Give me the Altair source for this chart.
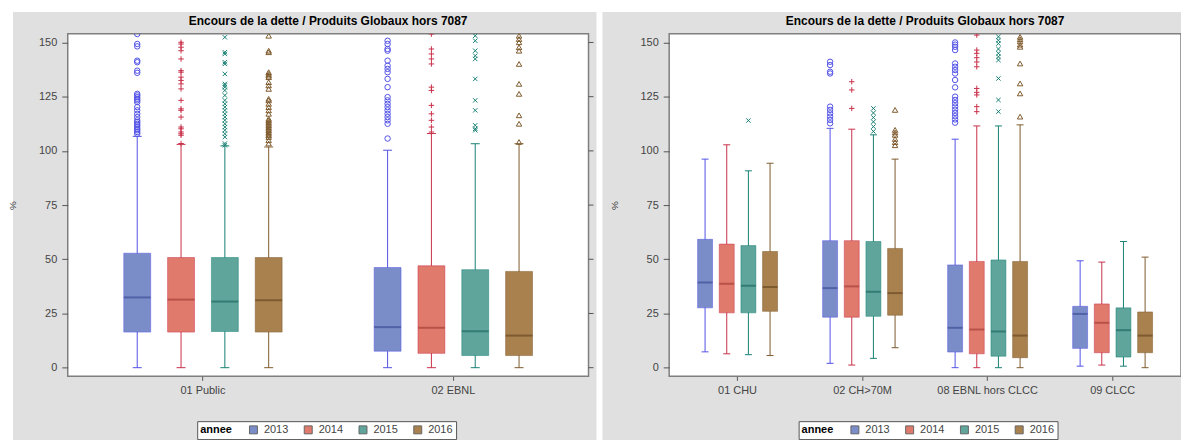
import altair as alt
import pandas as pd

years = ["2013", "2014", "2015", "2016"]
title_text = "Encours de la dette / Produits Globaux hors 7087"
y_ticks = [0, 25, 50, 75, 100, 125, 150]

fill_colors = ["#7B8DC9", "#E07A6C", "#5FA59C", "#A8814F"]
line_colors = ["#5252E6", "#C9304A", "#178074", "#7E5A2C"]
median_colors = ["#3F4E96", "#A8403A", "#1F6B62", "#6B4A22"]

# ---------------- left panel ----------------
left_groups = ["01 Public", "02 EBNL"]
left_low = [[0, 0, 0, 0], [0, 0, 0, 0]]
left_q1 = [[16.4, 16.4, 16.7, 16.4], [7.6, 6.6, 5.6, 5.6]]
left_median = [[32.4, 31.4, 30.5, 31.1], [18.7, 18.4, 16.8, 14.8]]
left_q3 = [[52.8, 50.8, 50.8, 50.8], [46.2, 47.0, 45.2, 44.4]]
left_high = [[106.7, 103.0, 102.3, 101.8], [100.3, 108.0, 103.3, 103.3]]

out_public = [
    [153.9, 149.3, 148.2, 141.6, 140.9, 137.0, 136.0, 126.3, 125.6, 124.8, 124.0, 123.3, 122.5,
     120.2, 118.7, 117.1, 115.6, 114.1, 113.3, 112.5, 111.8, 111.0, 110.2, 109.5, 108.7, 107.9],
    [150.1, 149.3, 147.8, 146.2, 142.4, 137.0, 136.3, 134.0, 132.5, 130.9, 128.6, 123.3, 119.4,
     118.7, 115.6, 111.0, 110.2, 108.7, 107.9, 107.2, 103.4],
    [152.4, 145.5, 144.7, 140.9, 140.1, 135.5, 130.9, 130.2, 129.4, 127.9, 125.6, 123.3, 121.7,
     120.2, 118.7, 117.1, 115.6, 114.1, 112.5, 111.0, 109.5, 107.9, 106.4, 103.4, 102.6],
    [153.1, 146.2, 145.5, 136.3, 135.5, 134.7, 134.0, 131.7, 130.2, 128.6, 124.0, 123.3, 121.7,
     120.2, 118.7, 117.1, 114.8, 114.1, 113.3, 112.5, 111.8, 111.0, 110.2, 109.5, 108.7, 107.9,
     107.2, 106.4, 104.9, 103.4],
]
out_ebnl = [
    [150.8, 149.3, 147.0, 146.2, 141.6, 139.3, 137.8, 136.3, 133.2, 129.4, 124.8, 123.3, 121.7,
     120.2, 118.7, 117.1, 115.6, 114.1, 112.5, 105.7],
    [153.9, 147.0, 144.7, 142.4, 140.1, 129.4, 127.9, 121.0, 117.1, 114.1, 111.0, 108.7],
    [153.1, 150.8, 146.2, 143.9, 142.4, 133.2, 123.3, 118.7, 111.8, 110.2, 109.5],
    [153.1, 151.6, 150.1, 147.8, 146.2, 140.1, 130.9, 126.3, 116.4, 112.5, 104.1],
]
left_outliers = [out_public, out_ebnl]

# ---------------- right panel ----------------
right_groups = ["01 CHU", "02 CH>70M", "08 EBNL hors CLCC", "09 CLCC"]
right_low = [[7.3, 6.4, 6.0, 5.6], [2.0, 1.2, 4.3, 9.2], [0, 0, 0, 0], [0.7, 1.2, 0.7, 0.0]]
right_q1 = [[27.6, 25.3, 25.3, 26.0], [23.3, 23.3, 23.7, 24.2], [7.2, 6.4, 5.3, 4.6], [8.9, 6.9, 4.9, 6.9]]
right_median = [[39.3, 38.7, 37.8, 37.2], [36.7, 37.5, 35.0, 34.4], [18.4, 17.6, 16.7, 14.8], [24.8, 20.7, 17.3, 14.8]]
right_q3 = [[59.2, 57.0, 56.3, 53.6], [58.6, 58.6, 58.2, 55.0], [47.4, 49.0, 49.7, 49.0], [28.3, 29.4, 27.6, 25.7]]
right_high = [[96.2, 102.8, 90.8, 94.3], [110.4, 110.0, 107.4, 96.2], [105.4, 111.5, 111.5, 112.0], [49.3, 48.7, 58.2, 51.0]]

out_chu = [[], [], [114.0], []]
out_ch70 = [
    [141.1, 139.6, 136.5, 135.7, 120.4, 118.9, 117.3, 115.8, 114.3, 112.7],
    [131.9, 128.1, 119.6],
    [119.6, 117.5, 115.4, 113.4, 111.2, 109.0],
    [118.9, 109.7, 108.5, 107.4, 105.5, 104.0, 102.6],
]
out_ebnl_hc = [
    [150.0, 149.0, 148.0, 146.5, 140.3, 138.8, 137.3, 135.7, 132.7, 129.3, 125.0, 123.5, 122.0,
     120.5, 119.0, 117.5, 116.0, 114.5, 113.0],
    [153.4, 146.5, 145.0, 143.0, 141.0, 138.8, 128.8, 127.0, 125.8, 120.4, 118.1],
    [152.6, 151.0, 149.5, 147.0, 145.0, 143.4, 141.9, 133.4, 123.5, 118.1],
    [152.6, 151.5, 150.5, 149.0, 148.0, 140.3, 131.1, 126.5, 115.8],
]
out_clcc = [[], [], [], []]
right_outliers = [out_chu, out_ch70, out_ebnl_hc, out_clcc]

FONT = "Liberation Sans"


def stats_df(groups, low, q1, med, q3, high):
    rows = []
    for gi, g in enumerate(groups):
        for yi, yr in enumerate(years):
            rows.append(dict(group=g, annee=yr, low=low[gi][yi], q1=q1[gi][yi],
                             med=med[gi][yi], q3=q3[gi][yi], high=high[gi][yi]))
    return pd.DataFrame(rows)


def out_df(groups, outs):
    rows = []
    for g, per_year in zip(groups, outs):
        for yr, vals in zip(years, per_year):
            for v in vals:
                rows.append(dict(group=g, annee=yr, val=v))
    return pd.DataFrame(rows)


def panel(groups, sdf, odf, W, H, pad_outer, off_pad, box_w, cap_w, bg_left, bg_right):
    yscale = alt.Scale(domain=[-4, 154], nice=False, zero=False)
    yaxis = alt.Axis(values=y_ticks, title="%", titleX=-50, titleY=H / 2, titleFontSize=10,
                     titleFontWeight="normal", titleColor="#333", titleFont=FONT,
                     labelFont=FONT, labelFontSize=11, labelColor="#444", tickColor="#555",
                     tickSize=6, labelPadding=5, domain=False, grid=False, zindex=1)
    xscale = alt.Scale(domain=groups, paddingInner=0, paddingOuter=pad_outer)
    xaxis = alt.Axis(title=None, labelAngle=0, labelFont=FONT, labelFontSize=11, labelColor="#444",
                     tickColor="#555", tickSize=4, labelPadding=4, domain=False, grid=False, zindex=1)
    X = alt.X("group:N", scale=xscale, axis=xaxis)
    XO = alt.XOffset("annee:N", scale=alt.Scale(domain=years, paddingInner=0, paddingOuter=off_pad))
    stroke_enc = alt.Stroke("annee:N", scale=alt.Scale(domain=years, range=line_colors), legend=None)

    one = alt.Chart(pd.DataFrame({"t": [title_text]}))
    white_top = one.mark_rect(color="white").encode(
        x=alt.value(bg_left), x2=alt.value(bg_right), y=alt.value(-25), y2=alt.value(-22))
    bg = one.mark_rect(color="#E0E0E0").encode(
        x=alt.value(bg_left), x2=alt.value(bg_right), y=alt.value(-22), y2=alt.value(H + 100))
    frame = one.mark_rect(fill="white", stroke="#7F7F7F", strokeWidth=1.5).encode(
        x=alt.value(0), x2=alt.value(W), y=alt.value(0), y2=alt.value(H))
    title = one.mark_text(font=FONT, fontSize=12, fontWeight="bold", color="black",
                          align="center", baseline="middle").encode(
        x=alt.value(W / 2), y=alt.value(-13), text="t:N")

    sb = alt.Chart(sdf)
    whisk = sb.mark_rule(strokeWidth=1).encode(
        x=X, xOffset=XO, y=alt.Y("low:Q", scale=yscale, axis=yaxis), y2="high:Q", stroke=stroke_enc)
    cap_lo = sb.mark_point(shape="M-1,0L1,0", size=cap_w ** 2, filled=False, strokeWidth=1, opacity=1).encode(
        x=X, xOffset=XO, y=alt.Y("low:Q", scale=yscale, axis=yaxis), stroke=stroke_enc)
    cap_hi = sb.mark_point(shape="M-1,0L1,0", size=cap_w ** 2, filled=False, strokeWidth=1, opacity=1).encode(
        x=X, xOffset=XO, y=alt.Y("high:Q", scale=yscale, axis=yaxis), stroke=stroke_enc)
    # fill scale: domain taken from the data (so the legend is not merged with the
    # legend-less stroke/colour/shape scales, whose domain is explicit)
    box = sb.mark_bar(size=box_w, strokeWidth=1, strokeOpacity=0.5).encode(
        x=X, xOffset=XO, y=alt.Y("q1:Q", scale=yscale, axis=yaxis), y2="q3:Q",
        fill=alt.Fill("annee:N", scale=alt.Scale(range=fill_colors),
                      legend=alt.Legend(orient="none", legendX=130, legendY=H + 45,
                                        direction="horizontal", title="annee", titleOrient="left",
                                        titleFont=FONT, titleFontWeight="bold", titleFontSize=11,
                                        titleColor="black", titlePadding=16, labelFont=FONT,
                                        labelFontSize=11, labelColor="#444", symbolType="square",
                                        symbolSize=64, symbolStrokeWidth=1, symbolStrokeColor="#666",
                                        labelOffset=5, columnPadding=13, padding=3,
                                        strokeColor="#555", fillColor="white", zindex=2)),
        stroke=stroke_enc)
    med = sb.mark_tick(size=box_w, thickness=2).encode(
        x=X, xOffset=XO, y=alt.Y("med:Q", scale=yscale, axis=yaxis),
        color=alt.Color("annee:N", scale=alt.Scale(domain=years, range=median_colors), legend=None))
    pts = alt.Chart(odf).mark_point(filled=False, size=30, strokeWidth=1, clip=True, opacity=1).encode(
        x=X, xOffset=XO, y=alt.Y("val:Q", scale=yscale, axis=yaxis), stroke=stroke_enc,
        shape=alt.Shape("annee:N", scale=alt.Scale(
            domain=years,
            range=["circle", "M-1,0L1,0M0,-1L0,1", "M-0.8,-0.8L0.8,0.8M0.8,-0.8L-0.8,0.8", "triangle-up"]),
            legend=None))
    rt = alt.Chart(pd.DataFrame({"v": y_ticks})).mark_rule(color="#555", strokeWidth=1).encode(
        y=alt.Y("v:Q", scale=yscale, axis=yaxis), x=alt.value(W), x2=alt.value(W + 5))

    return alt.layer(white_top, bg, frame, title, whisk, cap_lo, cap_hi, box, med, pts, rt).properties(
        width=W, height=H)


left = panel(left_groups,
             stats_df(left_groups, left_low, left_q1, left_median, left_q3, left_high),
             out_df(left_groups, left_outliers),
             W=523, H=344, pad_outer=0.04, off_pad=0.857, box_w=27, cap_w=9,
             bg_left=-55, bg_right=531)
right = panel(right_groups,
              stats_df(right_groups, right_low, right_q1, right_median, right_q3, right_high),
              out_df(right_groups, right_outliers),
              W=514, H=344, pad_outer=0.047, off_pad=0.886, box_w=15, cap_w=7,
              bg_left=-67, bg_right=530)

# chart bounds: width 586 + 6 + 597 = 1189, height 25 + 344 + 100 = 469
chart = alt.hconcat(left, right, spacing=6).resolve_scale(
    fill="independent", stroke="independent", color="independent", shape="independent",
    x="independent", y="independent", xOffset="independent").resolve_legend(
    fill="independent").configure_view(stroke=None).properties(
    padding={"left": 0, "top": 0, "right": -16, "bottom": -37}, background="white")

chart.save("out.html", embed_options={"renderer": "svg", "actions": False})
